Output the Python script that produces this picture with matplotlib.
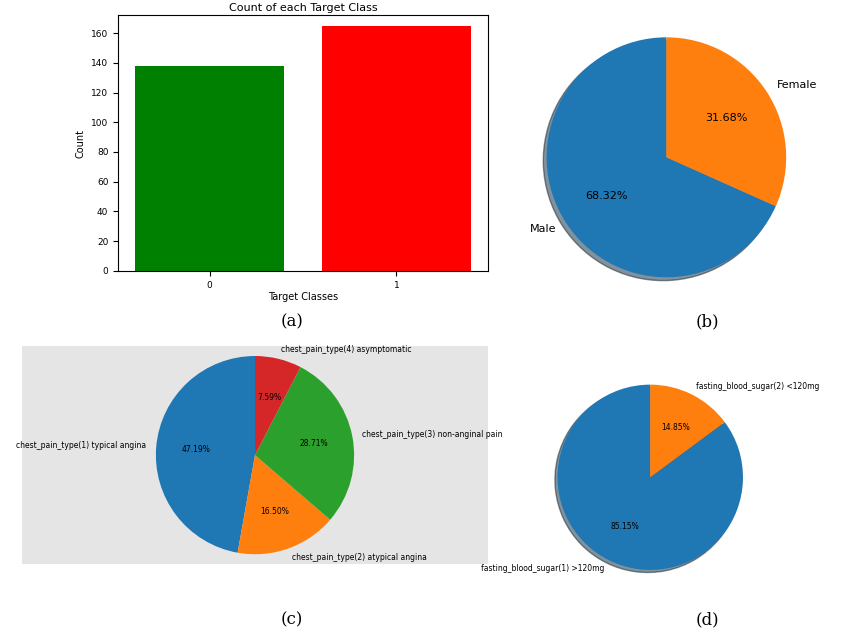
import matplotlib.pyplot as plt

target_classes = ['0', '1']
target_counts = [138, 165]

sex_labels = ['Male', 'Female']
sex_share = [68.32, 31.68]

cp_labels = ['chest_pain_type(1) typical angina', 'chest_pain_type(2) atypical angina',
             'chest_pain_type(3) non-anginal pain', 'chest_pain_type(4) asymptomatic']
cp_share = [47.19, 16.50, 28.71, 7.59]

fbs_labels = ['fasting_blood_sugar(1) >120mg', 'fasting_blood_sugar(2) <120mg']
fbs_share = [85.15, 14.85]

fig = plt.figure(figsize=(8.5, 6.33), dpi=100)

# (a) bar chart
ax = fig.add_axes([0.139, 0.572, 0.435, 0.404])
ax.bar(target_classes, target_counts, color=['green', 'red'])
ax.set_title('Count of each Target Class', fontsize=8, pad=3)
ax.set_xlabel('Target Classes', fontsize=7, labelpad=2)
ax.set_ylabel('Count', fontsize=7)
ax.set_ylim(0, 172)
ax.set_yticks(range(0, 161, 20))
ax.tick_params(labelsize=6.5)

# (b) sex pie
ax = fig.add_axes([0.629, 0.543, 0.31, 0.417])
ax.pie(sex_share, labels=sex_labels, autopct='%1.2f%%', startangle=90, shadow=True,
       colors=['#1f77b4', '#ff7f0e'], textprops={'fontsize': 8})
ax.axis('equal')

# (c) chest pain pie
ax = fig.add_axes([0.026, 0.107, 0.548, 0.348])
ax.set_facecolor('#e5e5e5')
ax.pie(cp_share, labels=cp_labels, autopct='%1.2f%%', startangle=90,
       colors=['#1f77b4', '#ff7f0e', '#2ca02c', '#d62728'], textprops={'fontsize': 5.5},
       frame=True)
ax.set_aspect('equal')
ax.set_xlim(-2.35, 2.35)
ax.set_ylim(-1.1, 1.1)
ax.set_xticks([]); ax.set_yticks([])
for s in ax.spines.values():
    s.set_visible(False)

# (d) fasting blood sugar pie
ax = fig.add_axes([0.645, 0.085, 0.24, 0.322])
ax.pie(fbs_share, labels=fbs_labels, autopct='%1.2f%%', startangle=90, shadow=True,
       colors=['#1f77b4', '#ff7f0e'], textprops={'fontsize': 5.5})
ax.axis('equal')

for x, y, t in [(292, 322, '(a)'), (707, 322, '(b)'), (292, 620, '(c)'), (707, 620, '(d)')]:
    fig.text(x / 850, 1 - y / 633, t, ha='center', va='center', fontsize=12, family='DejaVu Serif')

fig.savefig('out.png', dpi=100)
